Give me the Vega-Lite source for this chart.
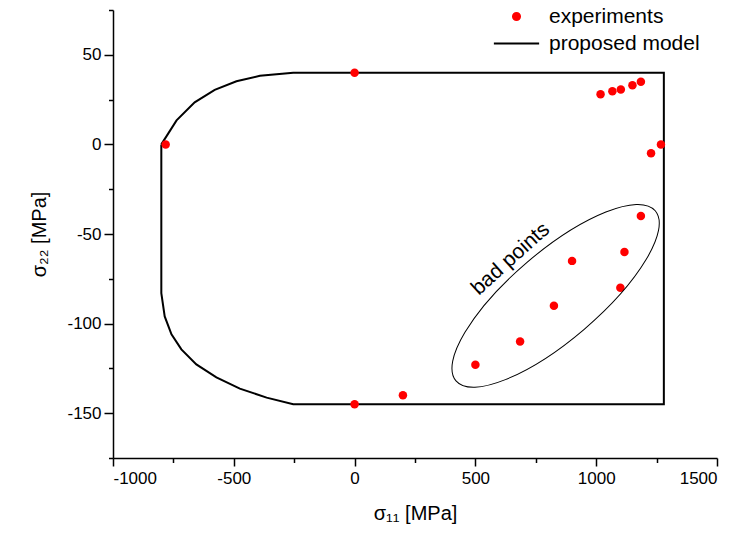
{
  "$schema": "https://vega.github.io/schema/vega-lite/v6.json",
  "width": 604,
  "height": 448,
  "autosize": "none",
  "padding": {"left": 113, "top": 10, "right": 24, "bottom": 79},
  "background": "white",
  "config": {
    "font": "Liberation Sans",
    "view": {"stroke": null},
    "axis": {
      "grid": false,
      "domainColor": "black",
      "domainWidth": 1.5,
      "tickColor": "black",
      "tickWidth": 1.5,
      "labelColor": "black",
      "labelFontSize": 17,
      "labelFont": "Liberation Sans",
      "titleFont": "Liberation Sans",
      "titleFontSize": 20,
      "titleFontWeight": "normal",
      "titleColor": "black"
    }
  },
  "datasets": {
    "model": [
      {"s11": -800, "s22": 0, "k": 1},
      {"s11": -737, "s22": 13.4, "k": 2},
      {"s11": -662, "s22": 23.5, "k": 3},
      {"s11": -579, "s22": 30.4, "k": 4},
      {"s11": -489, "s22": 35.2, "k": 5},
      {"s11": -392, "s22": 38.3, "k": 6},
      {"s11": -254, "s22": 40, "k": 7},
      {"s11": 1280, "s22": 40, "k": 8},
      {"s11": 1280, "s22": -145, "k": 9},
      {"s11": -254, "s22": -145, "k": 10},
      {"s11": -364, "s22": -141.3, "k": 11},
      {"s11": -475, "s22": -136.3, "k": 12},
      {"s11": -572, "s22": -130, "k": 13},
      {"s11": -655, "s22": -122.8, "k": 14},
      {"s11": -717, "s22": -114.4, "k": 15},
      {"s11": -758, "s22": -106, "k": 16},
      {"s11": -786, "s22": -96, "k": 17},
      {"s11": -800, "s22": -83, "k": 18},
      {"s11": -800, "s22": 0, "k": 19}
    ],
    "exp": [
      {"s11": -782, "s22": 0, "series": "experiments"},
      {"s11": 0, "s22": 40, "series": "experiments"},
      {"s11": 0, "s22": -145, "series": "experiments"},
      {"s11": 200, "s22": -140, "series": "experiments"},
      {"s11": 1018, "s22": 28, "series": "experiments"},
      {"s11": 1067, "s22": 29.6, "series": "experiments"},
      {"s11": 1102, "s22": 30.7, "series": "experiments"},
      {"s11": 1150, "s22": 33, "series": "experiments"},
      {"s11": 1185, "s22": 35, "series": "experiments"},
      {"s11": 1227, "s22": -5, "series": "experiments"},
      {"s11": 1268, "s22": 0, "series": "experiments"},
      {"s11": 1185, "s22": -40, "series": "experiments"},
      {"s11": 1117, "s22": -60, "series": "experiments"},
      {"s11": 900, "s22": -65, "series": "experiments"},
      {"s11": 1100, "s22": -80, "series": "experiments"},
      {"s11": 825, "s22": -90, "series": "experiments"},
      {"s11": 685, "s22": -110, "series": "experiments"},
      {"s11": 500, "s22": -123, "series": "experiments"}
    ],
    "note": [
      {"s11": 832, "s22": -84.5, "tx": 646, "ty": -64, "label": "bad points"}
    ]
  },
  "encoding": {
    "x": {
      "field": "s11", "type": "quantitative",
      "scale": {"domain": [-1000, 1500], "nice": false, "zero": false},
      "axis": {
        "title": "σ₁₁ [MPa]",
        "values": [-1000, -750, -500, -250, 0, 250, 500, 750, 1000, 1250, 1500],
        "labelExpr": "datum.value % 500 === 0 ? '' + datum.value : ''",
        "tickSize": {"condition": {"test": "datum.value % 500 === 0", "value": 8}, "value": 4.5},
        "labelPadding": 4,
        "titlePadding": 17
      }
    },
    "y": {
      "field": "s22", "type": "quantitative",
      "scale": {"domain": [-175, 75], "nice": false, "zero": false},
      "axis": {
        "title": "σ₂₂ [MPa]",
        "values": [-175, -150, -125, -100, -75, -50, -25, 0, 25, 50, 75],
        "labelExpr": "datum.value % 50 === 0 ? '' + datum.value : ''",
        "tickSize": {"condition": {"test": "datum.value % 50 === 0", "value": 9}, "value": 4.5},
        "labelPadding": 3,
        "titlePadding": 17
      }
    }
  },
  "layer": [
    {
      "data": {"name": "model"},
      "mark": {"type": "line", "color": "black", "strokeWidth": 2},
      "encoding": {"order": {"field": "k", "type": "quantitative"}}
    },
    {
      "data": {"name": "exp"},
      "mark": {"type": "point", "filled": true, "opacity": 1, "size": 72},
      "encoding": {
        "color": {
          "field": "series", "type": "nominal",
          "scale": {"domain": ["experiments", "proposed model"], "range": ["#ff0000", "#000000"]},
          "legend": {
            "title": null, "orient": "none", "legendX": 393, "legendY": -4,
            "symbolSize": 50, "labelFontSize": 21, "labelColor": "black",
            "labelOffset": 22, "rowPadding": 5, "padding": 0,
            "symbolOpacity": 1,
            "encode": {"symbols": {"update": {"stroke": {"scale": "color", "field": "value"}, "strokeWidth": {"value": 2}}}}
          }
        },
        "shape": {
          "field": "series", "type": "nominal",
          "scale": {"domain": ["experiments", "proposed model"], "range": ["circle", "M-6.4,0L6.4,0"]},
          "legend": {
            "title": null, "orient": "none", "legendX": 393, "legendY": -4,
            "symbolSize": 50, "labelFontSize": 21, "labelColor": "black",
            "labelOffset": 22, "rowPadding": 5, "padding": 0,
            "symbolOpacity": 1,
            "encode": {"symbols": {"update": {"stroke": {"scale": "color", "field": "value"}, "strokeWidth": {"value": 2}}}}
          }
        }
      }
    },
    {
      "data": {"name": "note"},
      "mark": {
        "type": "point", "filled": false, "stroke": "black", "strokeWidth": 1, "opacity": 1,
        "shape": "M-1,0C-1,-0.1855,-0.5523,-0.336,0,-0.336C0.5523,-0.336,1,-0.1855,1,0C1,0.1855,0.5523,0.336,0,0.336C-0.5523,0.336,-1,0.1855,-1,0Z",
        "size": 68644, "angle": 319.5
      }
    },
    {
      "data": {"name": "note"},
      "mark": {"type": "text", "fontSize": 21, "angle": 318, "align": "center", "baseline": "middle", "color": "black"},
      "encoding": {
        "x": {"field": "tx", "type": "quantitative"},
        "y": {"field": "ty", "type": "quantitative"},
        "text": {"field": "label"}
      }
    }
  ]
}
